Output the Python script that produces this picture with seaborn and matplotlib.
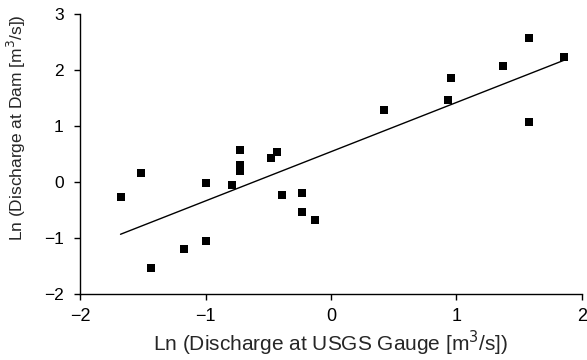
import matplotlib
matplotlib.use("Agg")
import matplotlib.pyplot as plt
import seaborn as sns
import numpy as np
import pandas as pd

# Data
usgs = [-1.68, -1.52, -1.44, -1.17, -1.00, -1.00, -0.79, -0.73, -0.73, -0.73,
        -0.48, -0.43, -0.39, -0.23, -0.23, -0.13,
        0.42, 0.96, 0.93, 1.37, 1.58, 1.58, 1.86]
dam = [-0.26, 0.17, -1.54, -1.19, -0.01, -1.06, -0.05, 0.57, 0.30, 0.19,
       0.43, 0.54, -0.23, -0.20, -0.54, -0.68,
       1.29, 1.85, 1.47, 2.07, 2.58, 1.07, 2.23]
x_ticks = [-2, -1, 0, 1, 2]
y_ticks = [-2, -1, 0, 1, 2, 3]

df = pd.DataFrame({"usgs": usgs, "dam": dam})

sns.set_theme(style="ticks")
plt.rcParams["font.family"] = ["Liberation Sans", "DejaVu Sans"]

fig = plt.figure(figsize=(5.87, 3.6), dpi=100)
ax = fig.add_axes([0.137, 0.183, 0.854, 0.778])

sns.regplot(data=df, x="usgs", y="dam", ax=ax, ci=None, marker="s",
            scatter_kws=dict(s=34, color="black", linewidths=0, alpha=1),
            line_kws=dict(color="black", linewidth=1.0))

ax.set_xlim(-2, 2)
ax.set_ylim(-2, 3)
ax.set_xticks(x_ticks)
ax.set_yticks(y_ticks)
ax.set_xticklabels([str(t).replace("-", "\u2212") for t in x_ticks])
ax.set_yticklabels([str(t).replace("-", "\u2212") for t in y_ticks])
ax.tick_params(axis="both", length=4, width=1, colors="black")
ax.tick_params(axis="x", labelsize=13, pad=6)
ax.tick_params(axis="y", labelsize=12.5, pad=8)
for s in ["top", "right"]:
    ax.spines[s].set_visible(False)
for s in ["left", "bottom"]:
    ax.spines[s].set_color("black")
    ax.spines[s].set_linewidth(1.0)

ax.set_xlabel("Ln (Discharge at USGS Gauge [m$^3$/s])", fontsize=15, labelpad=3)
ax.set_ylabel("Ln (Discharge at Dam [m$^3$/s])", fontsize=12.5)
ax.yaxis.set_label_coords(-0.105, 0.593)

fig.savefig("out.png", dpi=100)
